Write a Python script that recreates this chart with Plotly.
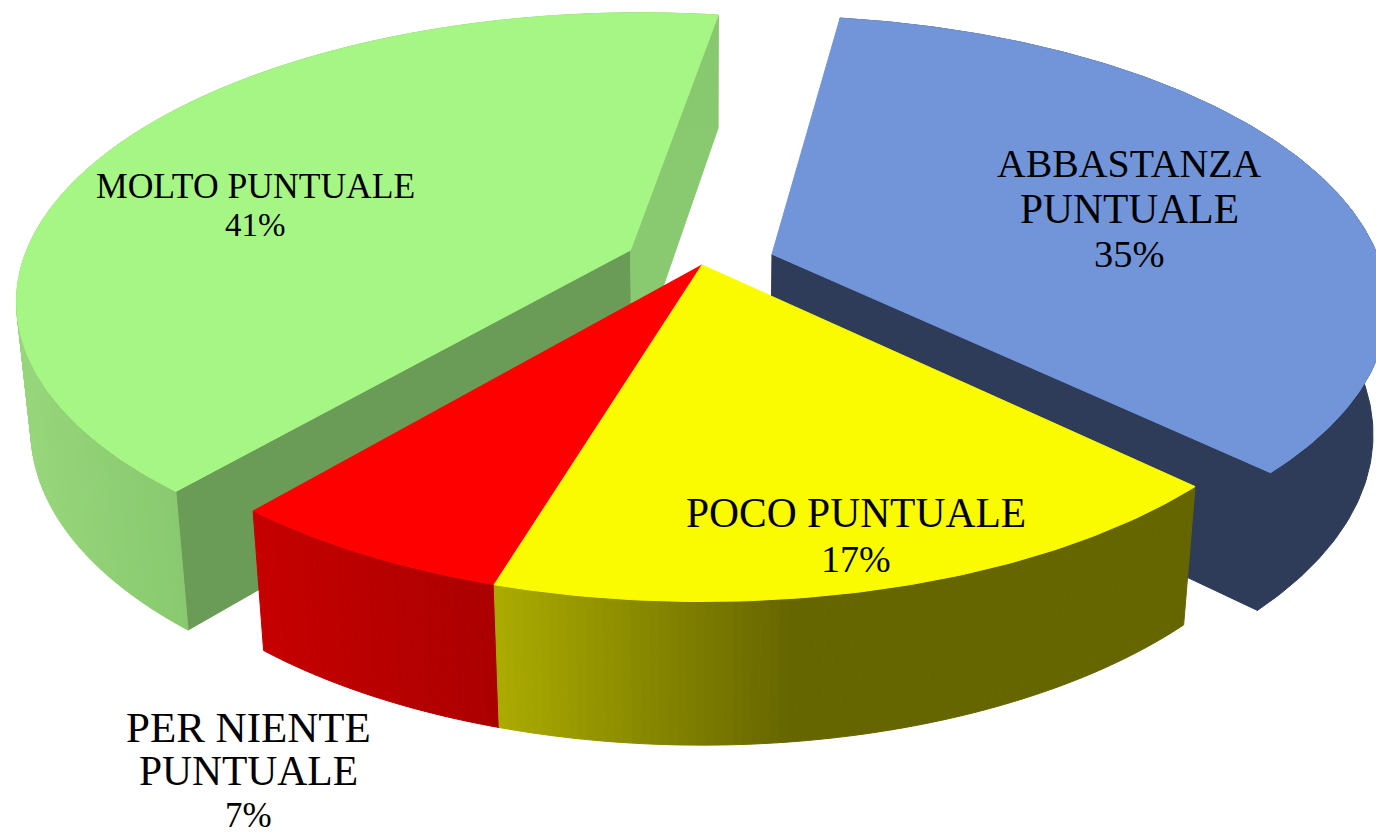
import numpy as np
import plotly.graph_objects as go

# slices clockwise, starting from the gap at the back of the pie
categories = ["ABBASTANZA PUNTUALE", "POCO PUNTUALE", "PER NIENTE PUNTUALE", "MOLTO PUNTUALE"]
values = [34.9, 17.35, 6.5, 41.25]
percent_labels = ["35%", "17%", "7%", "41%"]
explode = [0.122, 0, 0, 0.13]

top_colors = ["#7295D9", "#FBFB00", "#FF0000", "#A6F685"]
start_wall_colors = [None, None, None, "#6B9C57"]
end_wall_colors = ["#2E3C5A", None, None, "#89C970"]
# rim shade goes from the first colour to the second between two screen x
rim_shades = [
    (770, 1376, "#2E3C5A", "#2E3C5A"),
    (495, 790, "#ABAB00", "#666600"),
    (252, 495, "#C60000", "#AB0000"),
    (20, 190, "#97D67B", "#88C86E"),
]
# back to front
draw_order = [0, 3, 2, 1]

# text lines for each label: text, centre x, centre y, font size
label_lines = [
    ("ABBASTANZA", 1129, 164, 39.8),
    ("PUNTUALE", 1129, 209, 41.5),
    (percent_labels[0], 1129, 254, 38.5),
    ("MOLTO PUNTUALE", 255, 186, 35.6),
    (percent_labels[3], 255, 225, 33),
    ("POCO PUNTUALE", 856, 513, 41.5),
    (percent_labels[1], 856, 559, 38),
    ("PER NIENTE", 248, 727, 43),
    ("PUNTUALE", 248, 771, 41.5),
    (percent_labels[2], 248, 815, 35),
]

# camera for the tilted pie
CX, CY = 702, 265
FX, FY = 609, 281
KY, KZ = 0.165, 0.021
DEPTH = 130
START_ANGLE = 8.6


def project(x, y, z=0.0):
    w = 1 + KY * y + KZ * z
    return CX + FX * x / w, CY + (DEPTH * z - FY * y) / w


def mix(c1, c2, t):
    a = [int(c1[i:i + 2], 16) for i in (1, 3, 5)]
    b = [int(c2[i:i + 2], 16) for i in (1, 3, 5)]
    return "rgb({},{},{})".format(*[round(p + (q - p) * t) for p, q in zip(a, b)])


def add_poly(fig, xs, ys, color):
    xs, ys = list(xs), list(ys)
    fig.add_trace(go.Scatter(
        x=xs + [xs[0]], y=ys + [ys[0]], mode="lines", fill="toself",
        fillcolor=color, line=dict(color=color, width=1), hoverinfo="skip", showlegend=False,
    ))


def add_wall(fig, ox, oy, angle, color):
    if color is None:
        return
    rx, ry = ox + np.sin(angle), oy + np.cos(angle)
    pts = [project(ox, oy), project(rx, ry), project(rx, ry, 1), project(ox, oy, 1)]
    add_poly(fig, [p[0] for p in pts], [p[1] for p in pts], color)


def add_rim(fig, rim_x, rim_y, shade):
    u0, u1, c0, c1 = shade
    if c0 == c1:
        # flat colour, one piece
        tx, ty = project(rim_x, rim_y)
        bx, by = project(rim_x, rim_y, 1)
        add_poly(fig, np.r_[tx, bx[::-1]], np.r_[ty, by[::-1]], c0)
        return
    # narrow strips so that the shade can change along the rim
    for k in range(len(rim_x) - 1):
        a, b = project(rim_x[k], rim_y[k]), project(rim_x[k + 1], rim_y[k + 1])
        c, d = project(rim_x[k + 1], rim_y[k + 1], 1), project(rim_x[k], rim_y[k], 1)
        t = min(max((a[0] + b[0]) / 2 - u0, 0) / (u1 - u0), 1)
        add_poly(fig, [a[0], b[0], c[0], d[0]], [a[1], b[1], c[1], d[1]], mix(c0, c1, t))


# slice angles from the values
total = sum(values)
sweeps = [np.radians(v / total * 360) for v in values]
starts = np.radians(START_ANGLE) + np.r_[0, np.cumsum(sweeps)[:-1]]

fig = go.Figure()
for i in draw_order:
    angle, sweep = starts[i], sweeps[i]
    mid = angle + sweep / 2
    ox, oy = explode[i] * np.sin(mid), explode[i] * np.cos(mid)
    arc = np.linspace(angle, angle + sweep, max(int(values[i] * 5), 40))
    rim_x, rim_y = ox + np.sin(arc), oy + np.cos(arc)

    add_wall(fig, ox, oy, angle, start_wall_colors[i])
    add_wall(fig, ox, oy, angle + sweep, end_wall_colors[i])
    add_rim(fig, rim_x, rim_y, rim_shades[i])

    tx, ty = project(np.r_[ox, rim_x], np.r_[oy, rim_y])
    add_poly(fig, tx, ty, top_colors[i])

for text, x, y, size in label_lines:
    fig.add_annotation(
        x=x, y=y, text=text, showarrow=False, xanchor="center", yanchor="middle",
        font=dict(family="Liberation Serif", size=size, color="#000000"),
    )

fig.update_layout(
    width=1376, height=835, margin=dict(l=0, r=0, t=0, b=0),
    paper_bgcolor="white", plot_bgcolor="white", showlegend=False,
    xaxis=dict(range=[0, 1376], visible=False, fixedrange=True),
    yaxis=dict(range=[835, 0], visible=False, fixedrange=True),
)
fig.write_html("out.html", config=dict(displayModeBar=False),
               post_script="document.body.style.margin='0';document.body.style.overflow='hidden';")
